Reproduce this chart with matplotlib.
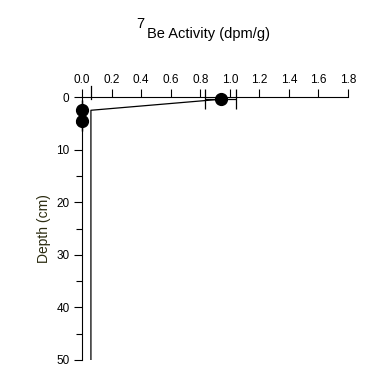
import matplotlib
matplotlib.use('Agg')
from matplotlib import pyplot as plt
from matplotlib.ticker import MultipleLocator

plt.rcParams['font.family'] = ['Liberation Sans', 'DejaVu Sans']

# measured points
activity = [0.94, 0.0, 0.0]
depth = [0.4, 2.5, 4.5]
activity_err = [0.105, 0.0, 0.0]

# connecting line / baseline trace
line_activity = [0.94, 0.06, 0.06]
line_depth = [0.4, 2.5, 50]

fig = plt.figure(figsize=(3.73, 3.75), dpi=100)
ax = fig.add_axes([0.22, 0.04, 0.713, 0.701])

ax.plot(line_activity, line_depth, color='black', lw=0.9, zorder=2)
ax.plot([0.06, 0.06], [-2.2, 0.4], color='black', lw=0.9, clip_on=False)
eb = ax.errorbar(activity, depth, xerr=activity_err, fmt='o', color='black',
                 ms=8.5, capsize=7, elinewidth=0.9, capthick=0.9, zorder=3)
for artist in eb.lines[0:1] + tuple(eb.lines[1]) + tuple(eb.lines[2]):
    artist.set_clip_on(False)

ax.set_xlim(0, 1.8)
ax.set_ylim(50, 0)
ax.xaxis.tick_top()
ax.yaxis.set_major_locator(MultipleLocator(10))
ax.yaxis.set_minor_locator(MultipleLocator(5))
ax.set_xticks([0.0, 0.2, 0.4, 0.6, 0.8, 1.0, 1.2, 1.4, 1.6, 1.8])
ax.set_xticklabels(['0.0', '0.2', '0.4', '0.6', '0.8', '1.0', '1.2', '1.4', '1.6', '1.8'])
ax.tick_params(axis='x', direction='out', length=6, width=0.8, labelsize=8.5, pad=2)
ax.tick_params(axis='y', which='major', direction='out', length=6, width=0.8, labelsize=8.5, pad=3)
ax.tick_params(axis='y', which='minor', direction='out', length=4, width=0.8)

for side in ['right', 'bottom']:
    ax.spines[side].set_visible(False)
ax.spines['top'].set_linewidth(0.8)
ax.spines['left'].set_linewidth(0.8)

ax.set_ylabel('Depth (cm)', fontsize=10, color='#2b2b10', labelpad=4)
fig.text(0.376, 0.935, '7', ha='center', va='center', fontsize=10.5)
fig.text(0.56, 0.91, 'Be Activity (dpm/g)', ha='center', va='center', fontsize=10.5)

fig.savefig('out.png', dpi=100)
